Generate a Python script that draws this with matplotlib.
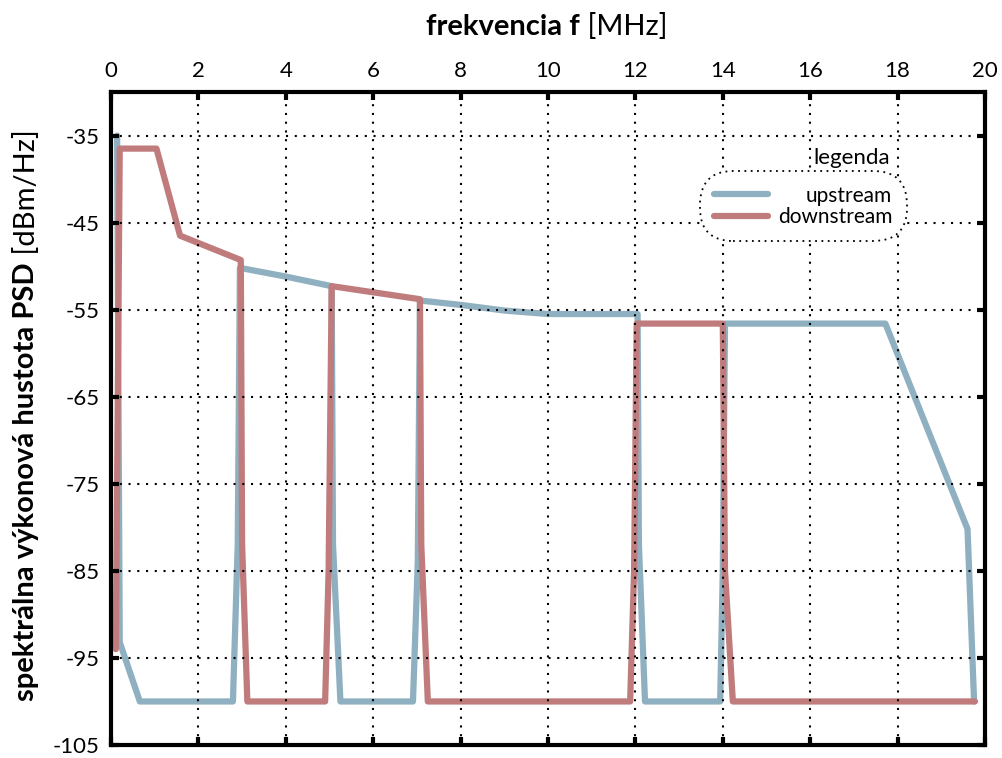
import numpy as np
import matplotlib
matplotlib.use('Agg')
import matplotlib.pyplot as plt

plt.rcParams['font.family'] = ['Lato', 'DejaVu Sans']
plt.rcParams['axes.unicode_minus'] = False

# upstream (modra) - frekvencia [MHz], PSD [dBm/Hz]
up_f = [0.14, 0.2, 0.66, 2.79, 2.9, 2.95, 4.0, 5.05, 5.08, 5.25, 6.91, 7.02, 7.07,
        8.0, 9.0, 10.0, 12.05, 12.08, 12.22, 13.94, 14.0, 14.05, 17.72, 19.6, 19.75]
up_psd = [-35, -93.2, -100, -100, -82, -50.2, -51.2, -52.3, -82, -100, -100, -84, -53.95,
          -54.45, -55.1, -55.5, -55.5, -82, -100, -100, -85, -56.6, -56.6, -80.2, -100]

# downstream (cervena)
down_f = [0.11, 0.2, 1.04, 1.58, 2.97, 3.0, 3.12, 4.9, 4.98, 5.05, 7.07, 7.1, 7.25,
          11.88, 11.97, 12.03, 14.0, 14.05, 14.23, 19.77]
down_psd = [-94, -36.5, -36.5, -46.5, -49.3, -82, -100, -100, -85, -52.3, -53.8, -82, -100,
            -100, -85, -56.6, -56.6, -85, -100, -100]

xticks = np.arange(0, 21, 2)
yticks = np.arange(-105, -34, 10)

c_up = '#8fb0c0'
c_down = '#c07c7c'

fig = plt.figure(figsize=(10.03, 7.58), dpi=100)
ax = fig.add_axes([111/1003, 13/758, 874/1003, 653/758])

ax.plot(up_f, up_psd, color=c_up, lw=4.5, solid_joinstyle='round',
        solid_capstyle='round', label='upstream')
ax.plot(down_f, down_psd, color=c_down, lw=4.5, solid_joinstyle='round',
        solid_capstyle='round', label='downstream')

ax.set_xlim(0, 20)
ax.set_ylim(-105, -30)
ax.set_xticks(xticks)
ax.set_yticks(yticks)
ax.xaxis.tick_top()
ax.tick_params(axis='both', which='major', direction='in', length=6, width=3,
               labelsize=16, top=True, bottom=True, left=True, right=True,
               labeltop=True, labelbottom=False, pad=8)
for s in ax.spines.values():
    s.set_linewidth(3)

ax.set_axisbelow(False)
ax.grid(True, color='black', linestyle=(0, (1, 3.2)), linewidth=1.5)

# popisy osi - tucna a normalna cast
t1 = fig.text(0.578, 0.964, 'frekvencia f', fontsize=21, fontweight='bold',
              ha='right', va='center')
ax.annotate(' [MHz]', xy=(1, 0), xycoords=t1, fontsize=21, ha='left', va='bottom')
t2 = fig.text(0.026, 0.365, 'spektrálna výkonová hustota PSD', fontsize=21,
              fontweight='bold', rotation=90, ha='center', va='center')
ax.annotate(' [dBm/Hz]', xy=(0.5, 1), xycoords=t2, fontsize=21, rotation=90,
            ha='center', va='bottom')

# legenda
leg = ax.legend(loc='center', bbox_to_anchor=(0.792, 0.825), fontsize=15,
                handlelength=2.6, handletextpad=0.45, borderpad=0.7,
                labelspacing=0.05, fancybox=True, framealpha=1)
frame = leg.get_frame()
frame.set_boxstyle('round,pad=0,rounding_size=1.6')
frame.set_edgecolor('black')
frame.set_linestyle((0, (1, 2.5)))
frame.set_linewidth(1.3)
fig.canvas.draw()
widths = [t.get_window_extent().width for t in leg.get_texts()]
shift = max(widths)
for t, w in zip(leg.get_texts(), widths):
    t.set_position((shift - w, 0))
ax.text(0.848, 0.899, 'legenda', transform=ax.transAxes, fontsize=16,
        ha='center', va='center')

fig.savefig('out.png', dpi=100)
